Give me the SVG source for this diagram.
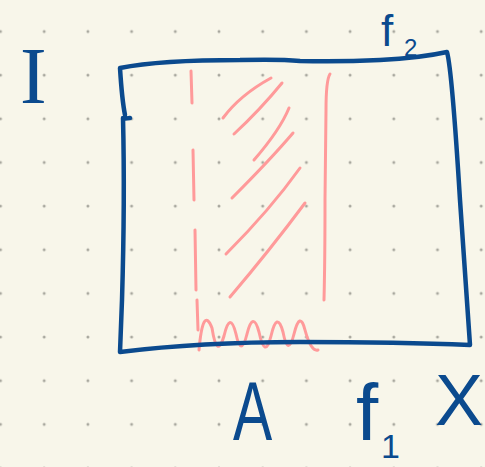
<svg xmlns="http://www.w3.org/2000/svg" width="485" height="467" viewBox="0 0 485 467">
<defs>
<pattern id="dots" x="0.5" y="31.5" width="43.7" height="43.65" patternUnits="userSpaceOnUse">
<circle cx="0" cy="0" r="1.5" fill="#a8a79e"/>
<circle cx="43.7" cy="0" r="1.5" fill="#a8a79e"/>
<circle cx="0" cy="43.65" r="1.5" fill="#a8a79e"/>
<circle cx="43.7" cy="43.65" r="1.5" fill="#a8a79e"/>
</pattern>
<style>
.blue{fill:none;stroke:#0b4a8e;stroke-width:4.5;stroke-linecap:round;stroke-linejoin:round}
.pink{fill:none;stroke:#ff9a9a;stroke-width:3;stroke-linecap:round;stroke-linejoin:round}
.lbl{fill:#0b4a8e;font-family:"Liberation Sans",Arial,sans-serif}
</style>
</defs>
<rect width="485" height="467" fill="#f8f6ea"/>
<rect width="485" height="467" fill="url(#dots)"/>
<g id="shaded-A">
<path class="pink" d="M191 71 L192 103 M193 150 L194 200 M195 230 L196 290 M197 300 L198 330"/>
<path class="pink" d="M330 74 Q326 80 326 110 L325 200 Q325 260 324 300"/>
<path class="pink" d="M223 118 Q240 95 271 78"/>
<path class="pink" d="M234 134 Q260 110 282 83"/>
<path class="pink" d="M254 160 Q280 130 289 108"/>
<path class="pink" d="M232 198 Q270 160 293 133"/>
<path class="pink" d="M226 254 Q270 210 300 168"/>
<path class="pink" d="M230 297 Q270 250 305 203"/>
<path class="pink" stroke-width="3.5" d="M199 350 Q203 305 212 328 Q217 360 224 336 Q230 310 236 334 Q241 358 247 334 Q253 310 259 332 Q265 360 271 336 Q277 310 283 332 Q288 358 294 334 Q300 310 305 330 Q311 352 318 350"/>
</g>
<g id="rect-IxX">
<path class="blue" d="M125 115 Q122 100 120 68 Q160 60 240 60 Q280 59 300 61 Q340 62 380 60 Q420 58 447 52 Q452 70 460 200 Q467 300 470 345 Q400 342 300 342 Q200 342 120 352 L122 300 Q125 200 123 118 Q124 119 130 118"/>
</g>
<g id="labels">
<text x="20" y="103" font-size="80" fill="#0b4a8e" font-family="'Liberation Serif',serif">I</text>
<text class="lbl" x="381" y="46" font-size="44">f</text>
<text class="lbl" x="404" y="56" font-size="24">2</text>
<text class="lbl" x="233" y="440" font-size="84" transform="translate(233 0) scale(0.7 1) translate(-233 0)">A</text>
<text class="lbl" x="356" y="440" font-size="80">f</text>
<text class="lbl" x="381" y="458" font-size="34">1</text>
<text class="lbl" x="435" y="425" font-size="72">X</text>
</g>
</svg>
